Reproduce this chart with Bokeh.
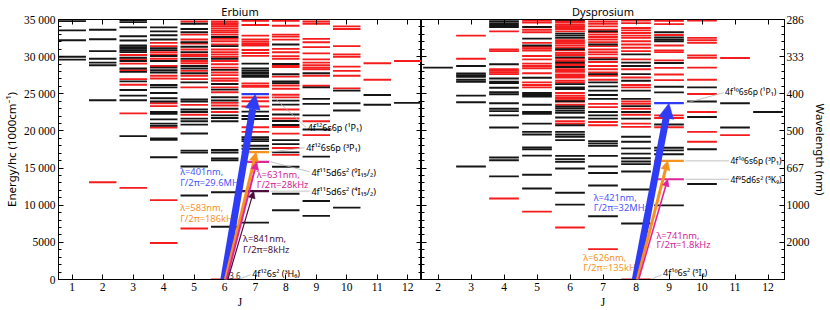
from bokeh.plotting import figure
from bokeh.models import (LinearAxis, FixedTicker, Arrow, NormalHead,
                          ColumnDataSource, Range1d, CustomJSTickFormatter)
from bokeh.layouts import row
from bokeh.embed import file_html
from bokeh.resources import INLINE
from bokeh.core.properties import value

# ---------------- data (energies in cm^-1, keyed by J) ----------------
er_black = {
    1: [34784, 33541, 32210, 29992, 29593],
    2: [33630, 32344, 30746, 29726, 29193, 28838, 24135],
    3: [34917, 34651, 33941, 32743, 32166, 31500, 31279, 31057, 30835, 30613, 29859, 29415,
        28395, 27951, 26664, 25511, 24756, 24135, 19299],
    4: [33941, 33408, 32876, 32299, 31145, 30879, 30081, 29415, 28528, 28173, 27862, 26176,
        25866, 25111, 24401, 23957, 22538, 22316, 21562, 20985, 20674, 18988, 18811, 16459],
    5: [34429, 33719, 33275, 31944, 31323, 30613, 29726, 28750, 28395, 27773, 26531, 24223,
        23957, 22893, 22538, 21650, 21296, 20852, 19654, 17346, 17080, 15216, 11312],
    6: [32654, 31412, 29726, 28217, 26309, 25555, 24534, 24091, 22981, 22094, 21739, 21296,
        17435, 17100, 16300, 16050, 11753, 7095],
    7: [29060, 28400, 28100, 27800, 27500, 27290, 22600, 22000, 21600, 19160, 18900, 18630,
        18000, 17600, 7650],
    8: [31632, 29000, 27627, 26651, 26429, 24079, 23547, 22216, 21328, 20796, 18756, 18224,
        17115, 15173, 11550, 9317],
    9: [27773, 25866, 24312, 23647, 22094, 20200, 16547, 10558, 8561],
    10: [25422, 23736, 22760, 9670],
    11: [24845, 23514],
    12: [23780],
}
er_red = {
    2: [13087],
    3: [30214, 29637, 29060, 28173, 26975, 26220, 22360, 12333],
    4: [31855, 31412, 30613, 30302, 29726, 28750, 27418, 27063, 23736, 23336, 20452, 10691, 4923],
    5: [34739, 32965, 32299, 31767, 30968, 30302, 30081, 29415, 29104, 28084, 27418, 26975,
        25866, 23513, 22183, 6875],
    6: [0, 34739, 34518, 34296, 34074, 33808, 33541, 33275, 32965, 32388, 32077, 31634, 30968,
        30613, 30302, 29992, 29415, 28971, 28528, 27862, 27507, 27063, 26753, 25866, 25200,
        23780, 23425, 22538],
    7: [34830, 34250, 32830, 32300, 32000, 31700, 31500, 30900, 30500, 30100, 26400, 26100,
        25950, 24490, 24000, 23290, 20500, 19870],
    8: [34999, 34827, 34160, 32960, 32694, 32296, 31041, 30598, 30066, 29711, 28824, 28602,
        27316, 26119, 25675, 24877, 24523, 22881, 21683, 20530, 19643, 17692, 16770],
    9: [34739, 34429, 32388, 31944, 31279, 30436, 29637, 29193, 28838, 28528, 28306, 27418,
        26087, 21300, 19431],
    10: [34074, 33719, 31412, 30302, 29992, 28661, 28084, 27418, 25733],
    11: [29104, 26886],
    12: [29415],
}
dy_black = {
    2: [28528],
    3: [28750, 27729, 27507, 27285, 26886, 26620, 24756, 23869, 15216],
    4: [34784, 34518, 34252, 33985, 28972, 27063, 26620, 26442, 25821, 25200, 24934, 23736,
        22982, 22671, 22094, 20453, 16415, 16060, 13885],
    5: [33985, 32432, 31500, 27152, 25111, 24845, 24623, 23514, 22538, 22316, 20985, 19876,
        19521, 17790, 17524, 16681, 14107, 12244],
    6: [34961, 33100, 32832, 32521, 31000, 29900, 29193, 28600, 26300, 25866, 25644, 24000,
        23300, 23070, 22760, 22449, 21800, 20763, 19876, 19521, 19210, 18766, 16637, 16193,
        15838, 14951, 11671, 10075],
    7: [33408, 31634, 29637, 27640, 26531, 25999, 25422, 24845, 24312, 22538, 22094, 21650,
        18633, 18322, 18012, 16637, 15214, 14330, 12645, 8518],
    8: [30302, 29193, 28750, 27640, 26753, 25422, 24312, 23336, 22538, 21650, 19210, 18544,
        17657, 16947, 16326, 15882, 15530, 14548, 12112, 7545],
    9: [33275, 32600, 32300, 32078, 29149, 25955, 25196, 20857, 17742, 17387, 16858, 9983],
    10: [25866, 23958, 21872, 17524, 12865],
    11: [23736, 20453],
    12: [22538],
}
dy_red = {
    3: [32832, 29726],
    4: [33408, 30968, 30746, 28306, 28084, 27862, 27640, 10912],
    5: [34873, 34606, 33630, 33275, 31855, 31323, 31101, 30835, 30081, 29637, 29060, 28750,
        28439, 27773, 26531, 26176, 25866, 9139],
    6: [34800, 34606, 34296, 34100, 33985, 33719, 33408, 32210, 32000, 31800, 31500, 31190,
        30879, 30524, 30300, 30170, 29726, 29415, 29000, 28800, 28306, 28100, 27951, 27596,
        27400, 27197, 26753, 26500, 25111, 24756, 24500, 24312, 24100, 23957, 23514, 21296,
        20985, 7008],
    7: [34739, 34429, 34074, 33630, 33275, 32965, 32654, 32299, 31944, 31412, 30968, 30613,
        30302, 29859, 29282, 28750, 28306, 27862, 27418, 26886, 23647, 23203, 21206, 20763,
        4085],
    8: [0, 34873, 34518, 33852, 33541, 33187, 32832, 32521, 32077, 31634, 31190, 30746, 29637,
        28306, 27197, 26176, 25866, 23957, 23647, 22981, 22183, 20985, 20541],
    9: [34826, 34382, 32919, 31505, 30838, 30610, 29504, 28483, 27592, 26843, 22094, 21740,
        20500],
    10: [34873, 32521, 32210, 31855, 30170, 29859, 28528, 26886, 24978, 22538, 19876, 18544],
    11: [29815, 19432],
}

# laser-cooling transitions: upper-level energies, J of ground/upper, labels
er_ground_J, er_upper_J = 6, 7
er_upper_E = [24943, 17157, 15846, 11888]
er_wavelength = ["λ=401nm,", "λ=583nm,", "λ=631nm,", "λ=841nm,"]
er_linewidth = ["Γ/2π=29.6MHz", "Γ/2π=186kHz", "Γ/2π=28kHz", "Γ/2π=8kHz"]
er_state = ["4f¹²6s6p (¹P₁)", "4f¹²6s6p (³P₁)", "4f¹¹5d6s² (⁹I₁₅/₂)", "4f¹¹5d6s² (⁴I₁₅/₂)"]
er_ground_state = "4f¹²6s² (³H₆)"

dy_ground_J, dy_upper_J = 8, 9
dy_upper_E = [23737, 15972, 13495]
dy_wavelength = ["λ=421nm,", "λ=626nm,", "λ=741nm,"]
dy_linewidth = ["Γ/2π=32MHz", "Γ/2π=135kHz", "Γ/2π=1.8kHz"]
dy_state = ["4f¹⁰6s6p (¹P₁)", "4f¹⁰6s6p (³P₁)", "4f⁹5d6s² (⁵K₉)"]
dy_ground_state = "4f¹⁰6s² (⁵I₈)"

energy_ticks = [0, 5000, 10000, 15000, 20000, 25000, 30000, 35000]
energy_labels = ["0", "5000", "10 000", "15 000", "20 000", "25 000", "30 000", "35 000"]
wl_ticks = [5000, 10000, 15000, 20000, 25000, 30000, 35000]
wl_labels = ["2000", "1000", "667", "500", "400", "333", "286"]
er_J_ticks = list(range(1, 13))
dy_J_ticks = list(range(2, 13))

# ---------------- styles ----------------
RED = "#f41c1c"
BLACK = "#151515"
GRAY = "#b4b4b4"
ER_COLORS = ["#2f3cf5", "#f7921e", "#e0249b", "#4a0f3c"]
ER_TEXT = ["#4a55ff", "#f7921e", "#d42596", "#4a0f3c"]
ER_WIDTH = [7, 3, 2, 1.2]
ER_HEAD = [15, 9, 8, 7]
DY_COLORS = ["#2f3cf5", "#f7921e", "#e0249b"]
DY_TEXT = ["#4a55ff", "#f7921e", "#d42596"]
DY_WIDTH = [7, 3, 1.6]
DY_HEAD = [15, 9, 7]
SERIF = "Liberation Serif"
SANS = "Noto Sans"
HALF = 0.45
LW = 1.9
H = 310
TR_SIZE = "9.3px"


def level_source(levels):
    x0, x1, y = [], [], []
    for J, es in levels.items():
        for e in es:
            x0.append(J - HALF)
            x1.append(J + HALF)
            y.append(e)
    return ColumnDataSource(dict(x0=x0, x1=x1, y=y))


def energy_ticker():
    return FixedTicker(ticks=energy_ticks, minor_ticks=list(range(0, 35001, 1000)))


def style_axis(ax, labels=True):
    ax.major_tick_in = 5
    ax.major_tick_out = 0
    ax.minor_tick_in = 3
    ax.minor_tick_out = 0
    ax.axis_line_color = "black"
    ax.major_tick_line_color = "black"
    ax.minor_tick_line_color = "black"
    ax.major_label_text_font = SERIF
    ax.major_label_text_font_size = "11.5px"
    ax.major_label_text_color = "black"
    ax.major_label_standoff = 3
    ax.axis_label_text_font = SANS
    ax.axis_label_text_font_size = "11.5px"
    ax.axis_label_text_font_style = "normal"
    ax.axis_label_text_color = "black"
    ax.axis_label_standoff = 2
    if not labels:
        ax.formatter = CustomJSTickFormatter(code="return ''")
        ax.major_label_standoff = 0


def base_fig(width, xr, yloc, title):
    p = figure(width=width, height=H, x_range=Range1d(*xr), y_range=Range1d(0, 35000),
               output_backend="svg", toolbar_location=None, y_axis_location=yloc,
               title=title,
               min_border_top=0, min_border_bottom=0, min_border_left=0, min_border_right=0)
    p.title.align = "center"
    p.title.text_font = SANS
    p.title.text_font_size = "11px"
    p.title.text_font_style = "normal"
    p.title.text_color = "black"
    p.title.standoff = 2
    p.title.offset = 0
    p.grid.visible = False
    p.outline_line_color = "black"
    p.outline_line_alpha = 1
    p.background_fill_color = "white"
    p.border_fill_color = "white"
    return p


def draw_levels(p, black, red):
    p.segment(x0="x0", x1="x1", y0="y", y1="y", source=level_source(red), line_color=RED,
              line_width=LW)
    p.segment(x0="x0", x1="x1", y0="y", y1="y", source=level_source(black), line_color=BLACK,
              line_width=LW)


def txt(p, x, y, t, color, size="10px", align="left"):
    p.text(x=[x], y=[y], text=[t], text_color=color, text_font=value(SANS),
           text_font_size=size, text_align=align, text_baseline="middle")


def leader(p, x0, y0, x1, y1):
    p.segment(x0=[x0], y0=[y0], x1=[x1], y1=[y1], line_color=GRAY, line_width=0.8)


def arrow(p, xs, xe, ye, color, w, head):
    p.add_layout(Arrow(end=NormalHead(size=head, fill_color=color, line_color=color,
                                      line_width=0.5),
                       x_start=xs, y_start=0, x_end=xe, y_end=ye,
                       line_color=color, line_width=w))


# ---------------- Erbium ----------------
p1 = base_fig(421, (0.55, 12.45), "left", "Erbium")
p1.xaxis.ticker = FixedTicker(ticks=er_J_ticks, minor_ticks=[])
p1.yaxis.ticker = energy_ticker()
p1.yaxis.major_label_overrides = {t: l for t, l in zip(energy_ticks, energy_labels)}
p1.xaxis.axis_label = "J"
p1.yaxis.axis_label = "Energy/hc (1000cm⁻¹)"
style_axis(p1.xaxis[0])
style_axis(p1.yaxis[0])
p1.xaxis.axis_label_text_font = SERIF
top1 = LinearAxis(ticker=FixedTicker(ticks=er_J_ticks, minor_ticks=[]))
right1 = LinearAxis(ticker=energy_ticker())
style_axis(top1, False)
style_axis(right1, False)
p1.add_layout(top1, "above")
p1.add_layout(right1, "right")

draw_levels(p1, er_black, er_red)
for e, c in zip(er_upper_E, ER_COLORS):
    p1.segment(x0=[er_upper_J - HALF], x1=[er_upper_J + HALF], y0=[e], y1=[e],
               line_color=c, line_width=LW + 0.3)

# leaders + state labels
leader(p1, er_upper_J + 0.5, er_upper_E[0], 8.67, 20450)
txt(p1, 8.72, 20400, er_state[0], "black", "9px")
leader(p1, er_upper_J + 0.5, er_upper_E[1], 8.62, 17740)
txt(p1, 8.67, 17740, er_state[1], "black", "9px")
leader(p1, er_upper_J + 0.5, er_upper_E[2], 8.78, 14500)
txt(p1, 8.84, 14420, er_state[2], "black", "9px")
leader(p1, er_upper_J + 0.5, er_upper_E[3], 8.78, 11900)
txt(p1, 8.84, 11880, er_state[3], "black", "9px")
leader(p1, er_ground_J + 0.45, 0, 6.85, 650)
txt(p1, 6.9, 850, er_ground_state, "black", "9px")
txt(p1, 5.93, 600, "1 3 6", "#333333", "8px")

# arrows
er_start = [5.97, 6.02, 6.06, 6.1]
er_end = [7.0, 7.03, 7.05, 6.95]
for xs, xe, e, c, w, h in zip(er_start, er_end, er_upper_E, ER_COLORS, ER_WIDTH, ER_HEAD):
    arrow(p1, xs, xe, e, c, w, h)

# transition labels
er_lab_pos = [(4.54, 14548, 13084), (4.54, 9716, 8252), (7.05, 14109, 12778), (6.6, 5457, 3993)]
for (x, y1, y2), wl, lw_, c in zip(er_lab_pos, er_wavelength, er_linewidth, ER_TEXT):
    txt(p1, x, y1, wl, c, TR_SIZE)
    txt(p1, x, y2, lw_, c, TR_SIZE)

# ---------------- Dysprosium ----------------
p2 = base_fig(409, (1.5, 12.5), "right", "Dysprosium")
p2.xaxis.ticker = FixedTicker(ticks=dy_J_ticks, minor_ticks=[])
p2.yaxis.ticker = FixedTicker(ticks=wl_ticks, minor_ticks=list(range(0, 35001, 1000)))
p2.yaxis.major_label_overrides = {t: l for t, l in zip(wl_ticks, wl_labels)}
p2.xaxis.axis_label = "J"
p2.yaxis.axis_label = "Wavelength (nm)"
style_axis(p2.xaxis[0])
style_axis(p2.yaxis[0])
p2.yaxis.major_label_standoff = 2
p2.yaxis.axis_label_standoff = 0
p2.xaxis.axis_label_text_font = SERIF
top2 = LinearAxis(ticker=FixedTicker(ticks=dy_J_ticks, minor_ticks=[]))
left2 = LinearAxis(ticker=energy_ticker())
style_axis(top2, False)
style_axis(left2, False)
p2.add_layout(top2, "above")
p2.add_layout(left2, "left")

draw_levels(p2, dy_black, dy_red)
for e, c in zip(dy_upper_E, DY_COLORS):
    p2.segment(x0=[dy_upper_J - HALF], x1=[dy_upper_J + HALF], y0=[e], y1=[e],
               line_color=c, line_width=LW + 0.3)

leader(p2, dy_upper_J + 0.5, dy_upper_E[0], 10.66, 25150)
txt(p2, 10.7, 25350, dy_state[0], "black", "8.5px")
leader(p2, dy_upper_J + 0.5, dy_upper_E[1], 10.82, dy_upper_E[1])
txt(p2, 10.86, dy_upper_E[1], dy_state[1], "black", "8.5px")
leader(p2, dy_upper_J + 0.5, dy_upper_E[2], 10.82, dy_upper_E[2])
txt(p2, 10.86, dy_upper_E[2], dy_state[2], "black", "8.5px")
leader(p2, dy_ground_J + 0.45, 0, 8.78, 650)
txt(p2, 8.82, 970, dy_ground_state, "black", "9px")

dy_start = [7.98, 8.04, 8.08]
dy_end = [9.0, 8.96, 8.96]
for xs, xe, e, c, w, h in zip(dy_start, dy_end, dy_upper_E, DY_COLORS, DY_WIDTH, DY_HEAD):
    arrow(p2, xs, xe, e, c, w, h)

dy_lab_pos = [(6.72, 11047, 9716), (6.4, 2928, 1597), (8.62, 5990, 4659)]
for (x, y1, y2), wl, lw_, c in zip(dy_lab_pos, dy_wavelength, dy_linewidth, DY_TEXT):
    txt(p2, x, y1, wl, c, TR_SIZE)
    txt(p2, x, y2, lw_, c, TR_SIZE)

layout = row(p1, p2)
open("out.html", "w").write(file_html(layout, INLINE))
